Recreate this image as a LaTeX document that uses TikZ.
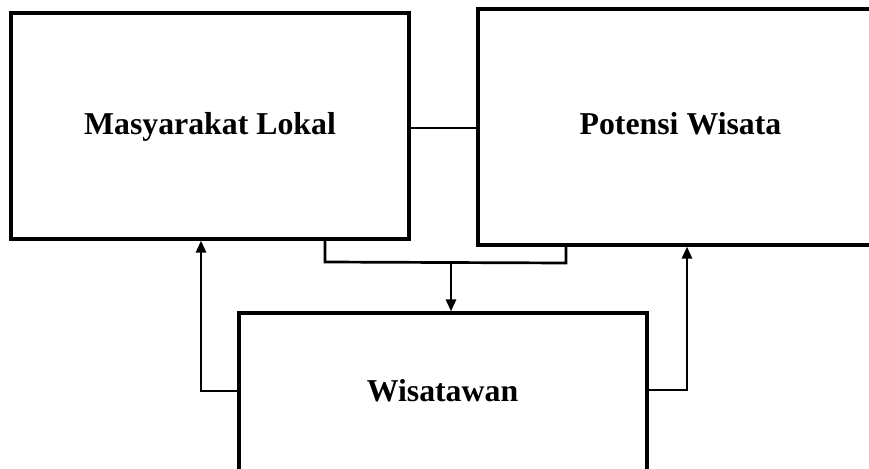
\documentclass[tikz,border=0pt]{standalone}
\usepackage{fontspec}
\setmainfont{Liberation Serif}
\usetikzlibrary{arrows.meta}
\begin{document}
\begin{tikzpicture}[x=1pt,y=-1pt,
  box/.style={draw=black,line width=3.2pt,rectangle,inner sep=0pt},
  lbl/.style={font=\fontsize{31.8}{36}\selectfont\bfseries,anchor=base,inner sep=0pt},
  conn/.style={draw=black,line width=2.7pt},
  arr/.style={conn,-{Triangle[length=12pt,width=10pt]}}]
\useasboundingbox (0,0) rectangle (869,468);
\clip (0,0) rectangle (869,468);
\node[box,minimum width=398pt,minimum height=226pt] (ml) at (210,126) {};
\node[box,minimum width=400pt,minimum height=236pt] (pw) at (678,127) {};
\node[box,minimum width=408pt,minimum height=180pt] (ws) at (443,403) {};
\node[lbl] (tml) at (210,135) {Masyarakat Lokal};
\node[lbl] (tpw) at (680.5,135) {Potensi Wisata};
\node[lbl] (tws) at (442.5,401) {Wisatawan};
\draw[conn] (ml.east |- 0,128) -- (pw.west |- 0,128);
\coordinate (j) at (451,263);
\draw[conn] (ml.south -| 325,0) -- (325,262) -- (566,263) -- (pw.south -| 566,0);
\draw[arr] (j) -- (ws.north -| j);
\draw[arr] (ws.west |- 0,391) -| (ml.south -| 201,0);
\draw[arr] (ws.east |- 0,390) -| (pw.south -| 687,0);
\end{tikzpicture}
\end{document}
